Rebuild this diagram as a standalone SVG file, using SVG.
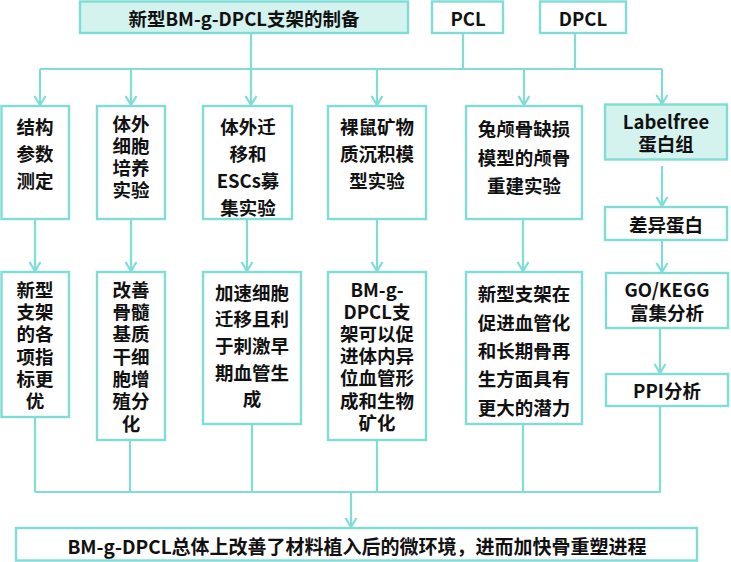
<svg xmlns="http://www.w3.org/2000/svg" width="731" height="562" viewBox="0 0 731 562">
<style>
.box{fill:#ffffff;stroke:#7fddd6;stroke-width:2.4}
.hl{fill:#d4f3ef}
.ln{fill:none;stroke:#7fddd6;stroke-width:2.2}
.ar{marker-end:url(#arr)}
text{font-family:"Noto Sans CJK SC","Noto Sans",sans-serif;font-weight:bold;font-size:18.5px;fill:#111;text-anchor:middle;dominant-baseline:central}
.big{font-size:19px}
</style>
<defs>
<marker id="arr" markerUnits="userSpaceOnUse" markerWidth="14" markerHeight="14" viewBox="0 0 14 14" refX="12" refY="7" orient="auto">
<path d="M3,1.5 L12,7 L3,12.5" fill="none" stroke="#7fddd6" stroke-width="2.2"/>
</marker>
</defs>
<g id="connectors">
<path class="ln" d="M251,33 V69 M463,33 V69 M575,33 V69 M40,69 H662"/>
<path class="ln ar" d="M40,69 V105"/>
<path class="ln ar" d="M131,69 V105"/>
<path class="ln ar" d="M251,69 V105"/>
<path class="ln ar" d="M377,69 V105"/>
<path class="ln ar" d="M524,69 V105"/>
<path class="ln ar" d="M662,69 V104"/>
<path class="ln ar" d="M35,219 V271"/>
<path class="ln ar" d="M131,219 V271"/>
<path class="ln ar" d="M247,219 V271"/>
<path class="ln ar" d="M377,219 V271"/>
<path class="ln ar" d="M523,219 V271"/>
<path class="ln ar" d="M662,166 V206"/>
<path class="ln ar" d="M662,240 V272"/>
<path class="ln ar" d="M660,328 V373"/>
<path class="ln" d="M35,417 V492 M130,440 V492 M252,424 V492 M377,440 V492 M523,424 V492 M660,406 V492 M35,492 H661"/>
<path class="ln ar" d="M351,492 V527"/>
</g>
<g id="n-prep"><rect class="box hl" x="80" y="1.5" width="328" height="31.5"/><text x="244" y="17.5">新型BM-g-DPCL支架的制备</text></g>
<g id="n-pcl"><rect class="box" x="432" y="1.5" width="71" height="31.5"/><text x="468" y="17.5">PCL</text></g>
<g id="n-dpcl"><rect class="box" x="540" y="1.5" width="86" height="31.5"/><text x="583" y="17.5">DPCL</text></g>

<g id="n-struct"><rect class="box" x="1.5" y="106" width="67.5" height="113"/><text x="35" y="126">结构</text><text x="35" y="153">参数</text><text x="35" y="180">测定</text></g>
<g id="n-cell"><rect class="box" x="97" y="106" width="68" height="113"/><text x="131" y="123">体外</text><text x="131" y="145">细胞</text><text x="131" y="167">培养</text><text x="131" y="189">实验</text></g>
<g id="n-migr"><rect class="box" x="203" y="106" width="89" height="113"/><text x="248" y="126">体外迁</text><text x="248" y="153">移和</text><text x="248" y="180">ESCs募</text><text x="248" y="207">集实验</text></g>
<g id="n-nude"><rect class="box" x="328" y="106" width="98" height="113"/><text x="377" y="126">裸鼠矿物</text><text x="377" y="153">质沉积模</text><text x="377" y="180">型实验</text></g>
<g id="n-rabbit"><rect class="box" x="466" y="106" width="116" height="113"/><text x="524" y="128">兔颅骨缺损</text><text x="524" y="157">模型的颅骨</text><text x="524" y="185">重建实验</text></g>
<g id="n-label"><rect class="box hl" x="605" y="104.5" width="122" height="55"/><text x="666" y="121">Labelfree</text><text x="666" y="143">蛋白组</text></g>
<g id="n-diff"><rect class="box" x="605" y="207" width="122" height="33"/><text x="666" y="224">差异蛋白</text></g>

<g id="r-struct"><rect class="box" x="1.5" y="272" width="67.5" height="145"/><text x="35" y="289">新型</text><text x="35" y="311">支架</text><text x="35" y="333">的各</text><text x="35" y="356">项指</text><text x="35" y="378">标更</text><text x="35" y="400">优</text></g>
<g id="r-cell"><rect class="box" x="97" y="272" width="68" height="168"/><text x="131" y="289">改善</text><text x="131" y="311">骨髓</text><text x="131" y="333">基质</text><text x="131" y="356">干细</text><text x="131" y="378">胞增</text><text x="131" y="400">殖分</text><text x="131" y="423">化</text></g>
<g id="r-migr"><rect class="box" x="203" y="272" width="98" height="152"/><text x="252" y="292">加速细胞</text><text x="252" y="318">迁移且利</text><text x="252" y="345">于刺激早</text><text x="252" y="372">期血管生</text><text x="252" y="398">成</text></g>
<g id="r-nude"><rect class="box" x="328" y="272" width="98" height="168"/><text x="377" y="289">BM-g-</text><text x="377" y="311">DPCL支</text><text x="377" y="333">架可以促</text><text x="377" y="355">进体内异</text><text x="377" y="377">位血管形</text><text x="377" y="400">成和生物</text><text x="377" y="422">矿化</text></g>
<g id="r-rabbit"><rect class="box" x="466" y="272" width="116" height="152"/><text x="524" y="293">新型支架在</text><text x="524" y="322">促进血管化</text><text x="524" y="350">和长期骨再</text><text x="524" y="378">生方面具有</text><text x="524" y="407">更大的潜力</text></g>
<g id="n-go"><rect class="box" x="606" y="273" width="122" height="55"/><text x="667" y="289">GO/KEGG</text><text x="667" y="312">富集分析</text></g>
<g id="n-ppi"><rect class="box" x="606" y="374" width="122" height="32"/><text x="667" y="390">PPI分析</text></g>

<g id="n-final"><rect class="box" x="16" y="528" width="681" height="32.5"/><text class="big" x="357" y="545">BM-g-DPCL总体上改善了材料植入后的微环境，进而加快骨重塑进程</text></g>
</svg>
